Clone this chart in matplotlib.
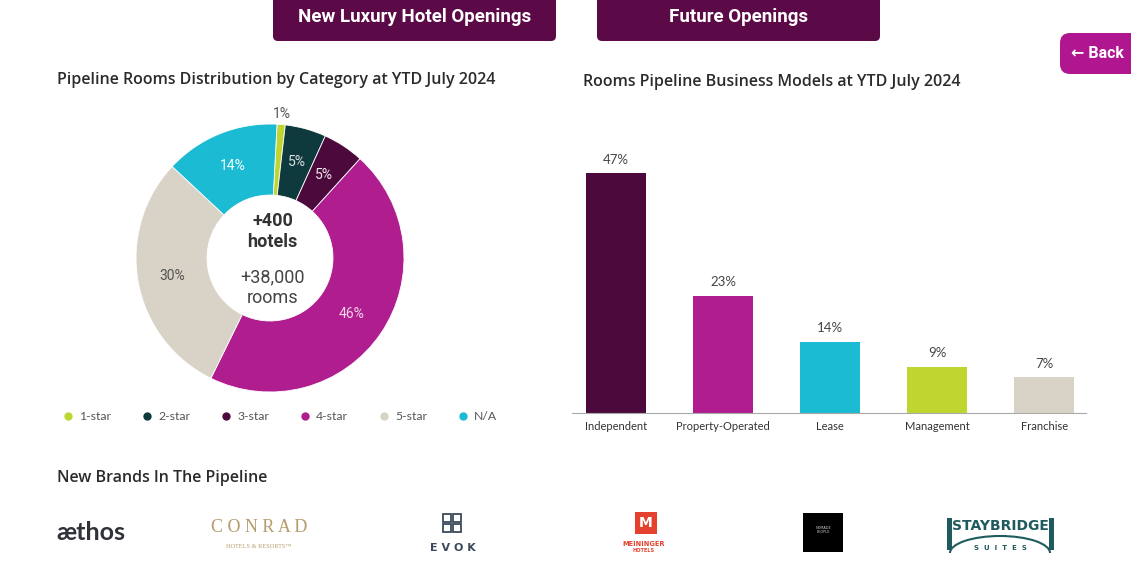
import matplotlib
matplotlib.use("Agg")
import matplotlib.pyplot as plt
import numpy as np
from matplotlib.patches import FancyBboxPatch, Rectangle, Arc
from matplotlib.lines import Line2D

# ============================
# Data
# ============================
categories = ["1-star", "2-star", "3-star", "4-star", "5-star", "N/A"]
category_share = [1, 5, 5, 46, 30, 14]
category_colors = ["#bfd630", "#0f3a3d", "#4b0a3b", "#b01d8e", "#d9d3c7", "#1bbbd4"]
category_label_colors = ["#555555", "#dddddd", "#f0e6ee", "#f3d6ec", "#555555", "#f4fbfd"]

models = ["Independent", "Property-Operated", "Lease", "Management", "Franchise"]
model_share = [47, 23, 14, 9, 7]
model_colors = ["#4b0a3b", "#b01d8e", "#1bbbd4", "#bfd630", "#d9d3c7"]

hotels_total = "+400\nhotels"
rooms_total = "+38,000\nrooms"

W, H = 1131, 570
fig = plt.figure(figsize=(W / 100, H / 100), dpi=100)
fig.patch.set_facecolor("white")

# background axes in pixel coordinates for page decoration
bg = fig.add_axes([0, 0, 1, 1])
bg.set_xlim(0, W)
bg.set_ylim(H, 0)
bg.axis("off")

# ============================
# Top buttons
# ============================
for x0, x1, label in [(273, 556, "New Luxury Hotel Openings"), (597, 880, "Future Openings")]:
    bg.add_patch(FancyBboxPatch((x0, -12), x1 - x0, 53,
                                boxstyle="round,pad=0,rounding_size=5",
                                fc="#5c0a47", ec="none"))
    bg.text((x0 + x1) / 2, 17, label, color="white", fontsize=13.5,
            fontweight="bold", family="Roboto", ha="center", va="center")

bg.add_patch(FancyBboxPatch((1060, 33), 90, 41,
                            boxstyle="round,pad=0,rounding_size=10",
                            fc="#b0168f", ec="none"))
bg.text(1071, 54, "\u2190 Back", color="white", fontsize=11.5, fontweight="bold",
        family=["Roboto", "DejaVu Sans"], ha="left", va="center")

# ============================
# Titles
# ============================
title_kw = dict(fontsize=11.5, fontweight="semibold", family="Open Sans",
                color="#2b2b2b", ha="left", va="center")
bg.text(57, 80, "Pipeline Rooms Distribution by Category at YTD July 2024", **title_kw)
bg.text(583, 82, "Rooms Pipeline Business Models at YTD July 2024", **title_kw)
bg.text(57, 478, "New Brands In The Pipeline", **title_kw)

# ============================
# Donut
# ============================
cx, cy, r_px = 270, 258, 134
half = 150
ax_d = fig.add_axes([(cx - half) / W, (H - cy - half) / H, 2 * half / W, 2 * half / H])
wedges, _ = ax_d.pie(category_share, colors=category_colors, startangle=87,
                     counterclock=False, radius=1,
                     wedgeprops=dict(width=0.53, edgecolor="white", linewidth=0.6))
ax_d.set_xlim(-half / r_px, half / r_px)
ax_d.set_ylim(-half / r_px, half / r_px)
ax_d.set_aspect("equal")
ax_d.axis("off")

total = sum(category_share)
angle = 87
for val, col in zip(category_share, category_label_colors):
    span = 360 * val / total
    mid = np.deg2rad(angle - span / 2)
    rad = 1.08 if val < 3 else 0.74
    ax_d.text(rad * np.cos(mid), rad * np.sin(mid), f"{val}%", color=col,
              fontsize=10, family="Roboto", ha="center", va="center")
    angle -= span

ax_d.text(0.02, 0.2, hotels_total, ha="center", va="center", fontsize=13,
          fontweight="bold", family="Roboto", color="#333333", linespacing=1.2)
ax_d.text(0.02, -0.22, rooms_total, ha="center", va="center", fontsize=13,
          family="Roboto", color="#444444", linespacing=1.15)

handles = [Line2D([0], [0], marker="o", linestyle="none", markersize=6,
                  markerfacecolor=c, markeredgecolor="none") for c in category_colors]
fig.legend(handles, categories, loc="center left",
           bbox_to_anchor=(62 / W, (H - 417) / H), ncol=6, frameon=False,
           handletextpad=0.4, columnspacing=2.45,
           handlelength=1.0, borderaxespad=0, borderpad=0,
           prop=dict(family="Lato", size=8.8), labelcolor="#555555")

# ============================
# Bars
# ============================
base_y, top_val_px = 413, 5.1
ymax = 52
ax_b = fig.add_axes([572 / W, (H - base_y) / H, 514 / W, ymax * top_val_px / H])
xs = range(len(models))
bars = ax_b.bar(xs, model_share, width=0.56, color=model_colors)
for b, v in zip(bars, model_share):
    ax_b.text(b.get_x() + b.get_width() / 2, v + 1.5, f"{v}%", ha="center",
              va="bottom", fontsize=9.5, family="Lato", color="#444444")
ax_b.set_xlim(-0.41, 4.39)
ax_b.set_ylim(0, ymax)
ax_b.set_xticks(list(xs))
ax_b.set_xticklabels(models, fontsize=8, family="Lato", color="#333333")
ax_b.tick_params(axis="x", length=0, pad=6)
ax_b.set_yticks([])
for s in ["top", "right", "left"]:
    ax_b.spines[s].set_visible(False)
ax_b.spines["bottom"].set_color("#aaaaaa")
ax_b.patch.set_alpha(0)

# ============================
# Brand logos (approximated as text)
# ============================
bg.text(56, 533, "\u00e6thos", fontsize=18, fontweight="bold", family="Lato",
        color="#2f3238", ha="left", va="center")
bg.text(259, 527, "C O N R A D", fontsize=13, family="Liberation Serif", color="#b59c6c",
        ha="center", va="center")
bg.text(259, 546, "HOTELS & RESORTS\u2122", fontsize=4.5, family="Liberation Serif",
        color="#b59c6c", ha="center", va="center")
for (dx, dy) in [(0, 0), (10, 0), (0, 10), (10, 10)]:
    bg.add_patch(Rectangle((443 + dx, 514 + dy), 8, 8, fc="none", ec="#3c4a5c", lw=1.3))
bg.text(453, 548, "E V O K", fontsize=8, fontweight="bold", family="DejaVu Sans",
        color="#3c4a5c", ha="center", va="center")
bg.add_patch(Rectangle((635, 512), 22, 22, fc="#e4412e", ec="none"))
bg.text(646, 523, "M", fontsize=10, fontweight="bold", color="white",
        ha="center", va="center", family="DejaVu Sans")
bg.text(644, 544, "MEININGER", fontsize=4.8, fontweight="bold", color="#e4412e",
        ha="center", va="center", family="DejaVu Sans")
bg.text(644, 551, "HOTELS", fontsize=3.6, fontweight="bold", color="#e4412e",
        ha="center", va="center", family="DejaVu Sans")
bg.add_patch(Rectangle((803, 513), 40, 39, fc="black", ec="none"))
bg.text(823, 530, "NOMADE\nPEOPLE", fontsize=2.5, color="#cccccc", ha="center",
        va="center", family="DejaVu Sans")
bg.add_patch(Rectangle((947, 518), 5, 32, fc="#1f5b5e", ec="none"))
bg.add_patch(Rectangle((1049, 518), 5, 32, fc="#1f5b5e", ec="none"))
bg.add_patch(Arc((1000, 553), 100, 34, theta1=180, theta2=360, color="#1f5b5e", lw=1.5))
bg.text(1000, 526, "STAYBRIDGE", fontsize=10, fontweight="bold", color="#1f5b5e",
        ha="center", va="center", family="Liberation Sans Narrow")
bg.text(1000, 548, "S  U  I  T  E  S", fontsize=5, fontweight="bold", color="#1f5b5e",
        ha="center", va="center", family="DejaVu Sans")

fig.savefig("out.png", dpi=100, facecolor="white")
